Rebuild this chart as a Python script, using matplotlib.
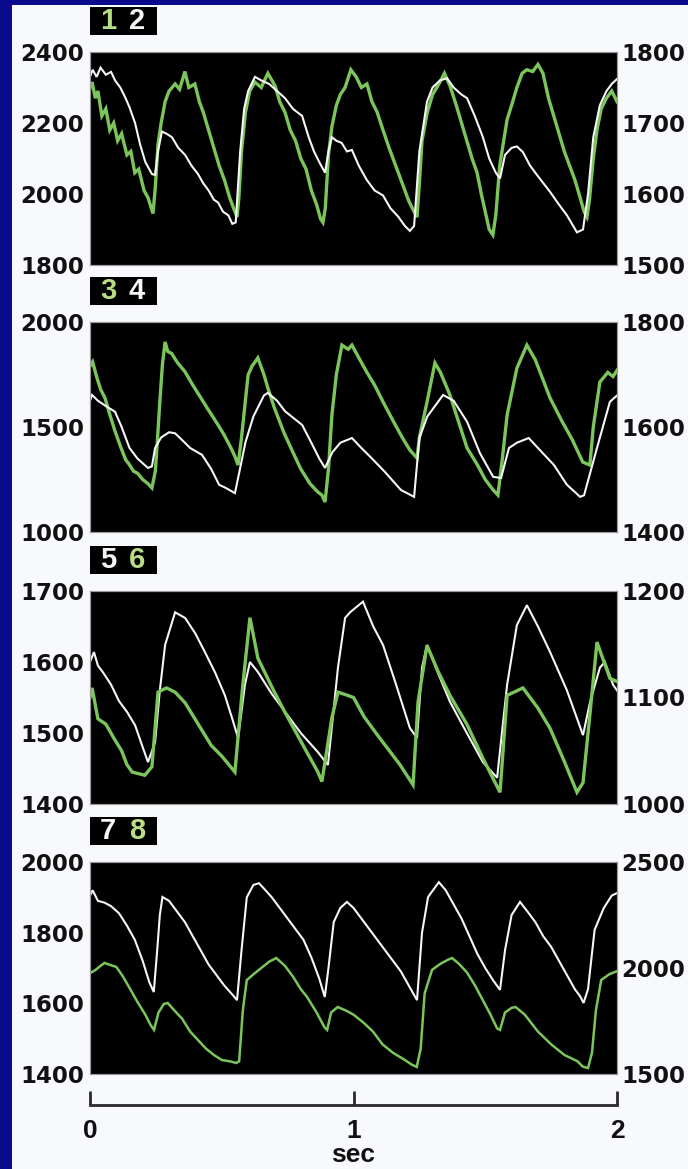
"""Four paired pressure traces over two seconds, with a scale bar in seconds."""

import matplotlib.pyplot as plt
from matplotlib.patches import Rectangle

# ---- panel 1: trace 1 (green, left axis) and trace 2 (white, right axis)
p1_green_t = [0.000, 0.008, 0.020, 0.030, 0.045, 0.060, 0.075, 0.090, 0.105, 0.120,
              0.140, 0.155, 0.170, 0.185, 0.205, 0.220, 0.239, 0.248, 0.258, 0.270,
              0.285, 0.300, 0.323, 0.340, 0.360, 0.375, 0.398, 0.415, 0.430, 0.450,
              0.470, 0.490, 0.510, 0.530, 0.545, 0.558, 0.565, 0.575, 0.590, 0.606,
              0.626, 0.650, 0.675, 0.702, 0.720, 0.740, 0.760, 0.780, 0.800, 0.820,
              0.840, 0.860, 0.875, 0.884, 0.893, 0.905, 0.918, 0.935, 0.950, 0.968,
              0.990, 1.010, 1.030, 1.051, 1.070, 1.090, 1.112, 1.135, 1.160, 1.185,
              1.210, 1.230, 1.241, 1.250, 1.260, 1.280, 1.300, 1.328, 1.345, 1.366,
              1.390, 1.410, 1.430, 1.450, 1.469, 1.485, 1.500, 1.515, 1.529, 1.540,
              1.555, 1.570, 1.583, 1.600, 1.620, 1.640, 1.658, 1.680, 1.700, 1.719,
              1.740, 1.760, 1.780, 1.800, 1.820, 1.840, 1.860, 1.875, 1.886, 1.895,
              1.910, 1.924, 1.940, 1.960, 1.980, 2.000]
p1_green = [2300, 2315, 2270, 2290, 2220, 2240, 2180, 2200, 2150, 2170,
            2110, 2120, 2060, 2070, 2010, 1990, 1945, 2020, 2140, 2200,
            2260, 2290, 2310, 2295, 2345, 2300, 2310, 2260, 2230, 2180,
            2130, 2080, 2040, 1990, 1960, 1935, 1990, 2120, 2230, 2290,
            2315, 2300, 2340, 2305, 2260, 2230, 2180, 2150, 2100, 2070,
            2010, 1970, 1930, 1920, 1960, 2110, 2190, 2250, 2280, 2300,
            2350, 2330, 2300, 2310, 2260, 2230, 2180, 2130, 2080, 2030,
            1980, 1950, 1935, 2030, 2150, 2230, 2280, 2315, 2340, 2305,
            2250, 2200, 2150, 2100, 2060, 2000, 1950, 1900, 1885, 1940,
            2080, 2150, 2210, 2250, 2300, 2340, 2350, 2345, 2365, 2340,
            2270, 2220, 2170, 2120, 2080, 2040, 1990, 1950, 1935, 1980,
            2100, 2180, 2240, 2270, 2290, 2260]
p1_white_t = [0.000, 0.010, 0.025, 0.040, 0.060, 0.080, 0.095, 0.115, 0.135, 0.150,
              0.171, 0.190, 0.210, 0.235, 0.247, 0.258, 0.273, 0.290, 0.311, 0.335,
              0.361, 0.385, 0.410, 0.430, 0.450, 0.470, 0.486, 0.505, 0.525, 0.540,
              0.553, 0.570, 0.585, 0.600, 0.626, 0.650, 0.680, 0.710, 0.740, 0.770,
              0.805, 0.830, 0.850, 0.870, 0.892, 0.905, 0.918, 0.935, 0.955, 0.975,
              0.994, 1.020, 1.050, 1.080, 1.112, 1.140, 1.170, 1.195, 1.214, 1.230,
              1.250, 1.279, 1.300, 1.328, 1.355, 1.380, 1.410, 1.431, 1.460, 1.491,
              1.515, 1.540, 1.556, 1.575, 1.600, 1.620, 1.643, 1.670, 1.700, 1.746,
              1.780, 1.810, 1.848, 1.871, 1.890, 1.910, 1.935, 1.960, 1.980, 2.000]
p1_white = [1765, 1775, 1765, 1778, 1768, 1772, 1760, 1750, 1735, 1722,
            1700, 1670, 1645, 1628, 1627, 1660, 1688, 1685, 1680, 1665,
            1655, 1640, 1628, 1615, 1605, 1592, 1588, 1575, 1570, 1558,
            1560, 1660, 1720, 1745, 1765, 1760, 1755, 1745, 1735, 1720,
            1710, 1680, 1660, 1645, 1630, 1660, 1680, 1675, 1672, 1660,
            1662, 1640, 1620, 1605, 1598, 1580, 1568, 1555, 1548, 1555,
            1660, 1730, 1750, 1760, 1763, 1750, 1740, 1735, 1710, 1680,
            1650, 1630, 1622, 1655, 1665, 1667, 1659, 1640, 1625, 1603,
            1585, 1570, 1546, 1550, 1600, 1680, 1725, 1745, 1755, 1762]

# ---- panel 2: trace 3 (green, left axis) and trace 4 (white, right axis)
p2_green_t = [0.000, 0.010, 0.025, 0.040, 0.057, 0.075, 0.095, 0.115, 0.135, 0.150,
              0.165, 0.180, 0.200, 0.220, 0.235, 0.248, 0.255, 0.265, 0.275, 0.285,
              0.295, 0.310, 0.330, 0.361, 0.390, 0.420, 0.450, 0.486, 0.510, 0.535,
              0.550, 0.562, 0.575, 0.600, 0.615, 0.637, 0.660, 0.675, 0.700, 0.737,
              0.770, 0.800, 0.835, 0.865, 0.880, 0.892, 0.905, 0.918, 0.935, 0.956,
              0.980, 0.994, 1.020, 1.051, 1.080, 1.112, 1.150, 1.185, 1.214, 1.241,
              1.250, 1.279, 1.309, 1.330, 1.366, 1.400, 1.431, 1.470, 1.500, 1.530,
              1.548, 1.565, 1.583, 1.620, 1.658, 1.690, 1.746, 1.790, 1.830, 1.870,
              1.897, 1.910, 1.935, 1.965, 1.985, 2.000]
p2_green = [1790, 1810, 1740, 1680, 1638, 1560, 1480, 1410, 1345, 1320,
            1290, 1280, 1250, 1230, 1210, 1290, 1420, 1620, 1800, 1905,
            1860, 1850, 1810, 1762, 1700, 1640, 1580, 1510, 1460, 1400,
            1360, 1319, 1450, 1748, 1790, 1829, 1750, 1686, 1590, 1470,
            1380, 1300, 1230, 1190, 1176, 1143, 1300, 1557, 1750, 1890,
            1870, 1890, 1830, 1760, 1700, 1620, 1530, 1450, 1390, 1352,
            1450, 1619, 1805, 1760, 1652, 1520, 1400, 1320, 1250, 1200,
            1176, 1350, 1557, 1780, 1890, 1820, 1638, 1530, 1440, 1333,
            1319, 1500, 1714, 1760, 1740, 1770]
p2_white_t = [0.000, 0.008, 0.030, 0.060, 0.095, 0.120, 0.150, 0.180, 0.220, 0.235,
              0.247, 0.270, 0.300, 0.323, 0.350, 0.380, 0.425, 0.460, 0.490, 0.515,
              0.550, 0.565, 0.590, 0.620, 0.660, 0.675, 0.710, 0.740, 0.805, 0.840,
              0.870, 0.892, 0.920, 0.950, 0.994, 1.030, 1.070, 1.120, 1.180, 1.230,
              1.250, 1.280, 1.340, 1.380, 1.431, 1.480, 1.530, 1.560, 1.590, 1.620,
              1.665, 1.700, 1.760, 1.810, 1.860, 1.875, 1.924, 1.973, 2.000]
p2_white = [1650, 1661, 1650, 1640, 1629, 1600, 1560, 1540, 1522, 1525,
            1560, 1580, 1590, 1588, 1575, 1560, 1547, 1520, 1490, 1484,
            1474, 1510, 1571, 1620, 1660, 1665, 1650, 1630, 1604, 1570,
            1540, 1522, 1552, 1570, 1579, 1560, 1540, 1514, 1480, 1467,
            1579, 1620, 1661, 1650, 1610, 1550, 1505, 1503, 1560, 1570,
            1579, 1560, 1528, 1490, 1467, 1470, 1560, 1648, 1660]

# ---- panel 3: trace 5 (white, left axis) and trace 6 (green, right axis)
p3_white_t = [0.000, 0.015, 0.030, 0.050, 0.080, 0.110, 0.140, 0.171, 0.200, 0.220,
              0.247, 0.265, 0.285, 0.323, 0.361, 0.400, 0.436, 0.475, 0.512, 0.540,
              0.562, 0.588, 0.607, 0.637, 0.690, 0.740, 0.800, 0.865, 0.903, 0.941,
              0.968, 0.987, 1.036, 1.075, 1.112, 1.160, 1.214, 1.241, 1.260, 1.279,
              1.320, 1.366, 1.430, 1.491, 1.545, 1.583, 1.620, 1.658, 1.700, 1.746,
              1.810, 1.871, 1.898, 1.935, 1.954, 1.985, 2.000]
p3_white = [1600, 1614, 1595, 1585, 1568, 1545, 1530, 1511, 1480, 1459,
            1487, 1560, 1624, 1670, 1662, 1640, 1614, 1585, 1553, 1520,
            1493, 1568, 1600, 1586, 1555, 1530, 1500, 1473, 1455, 1592,
            1662, 1670, 1685, 1650, 1624, 1570, 1507, 1493, 1592, 1624,
            1585, 1544, 1500, 1459, 1437, 1568, 1652, 1680, 1650, 1614,
            1560, 1497, 1544, 1592, 1600, 1568, 1560]
p3_green_t = [0.000, 0.008, 0.030, 0.060, 0.095, 0.120, 0.140, 0.160, 0.208, 0.235,
              0.258, 0.290, 0.323, 0.361, 0.413, 0.460, 0.500, 0.550, 0.568, 0.580,
              0.607, 0.637, 0.690, 0.740, 0.820, 0.865, 0.880, 0.918, 0.941, 0.978,
              1.000, 1.040, 1.090, 1.176, 1.226, 1.245, 1.279, 1.320, 1.366, 1.430,
              1.491, 1.556, 1.583, 1.643, 1.700, 1.746, 1.800, 1.848, 1.871, 1.898,
              1.924, 1.973, 2.000]
p3_green = [1100, 1109, 1080, 1075, 1060, 1050, 1037, 1030, 1027, 1035,
            1105, 1109, 1105, 1095, 1074, 1055, 1045, 1030, 1080, 1112,
            1175, 1137, 1110, 1086, 1050, 1030, 1021, 1081, 1105, 1102,
            1100, 1082, 1065, 1037, 1018, 1096, 1149, 1125, 1102, 1075,
            1043, 1011, 1102, 1109, 1090, 1071, 1040, 1011, 1020, 1086,
            1152, 1118, 1115]

# ---- panel 4: trace 7 (white, left axis) and trace 8 (green, right axis)
p4_white_t = [0.000, 0.010, 0.030, 0.055, 0.080, 0.110, 0.140, 0.170, 0.200, 0.225,
              0.242, 0.255, 0.265, 0.275, 0.300, 0.330, 0.360, 0.390, 0.420, 0.450,
              0.480, 0.510, 0.540, 0.558, 0.575, 0.595, 0.620, 0.641, 0.660, 0.690,
              0.720, 0.750, 0.780, 0.810, 0.840, 0.870, 0.891, 0.905, 0.925, 0.950,
              0.975, 1.000, 1.030, 1.060, 1.090, 1.120, 1.150, 1.180, 1.210, 1.241,
              1.260, 1.283, 1.324, 1.350, 1.380, 1.410, 1.440, 1.470, 1.500, 1.530,
              1.556, 1.575, 1.600, 1.632, 1.660, 1.690, 1.720, 1.750, 1.780, 1.810,
              1.840, 1.860, 1.873, 1.890, 1.915, 1.950, 1.980, 2.000]
p4_white = [1905, 1920, 1890, 1885, 1875, 1855, 1820, 1780, 1720, 1660,
            1632, 1750, 1850, 1901, 1890, 1860, 1830, 1790, 1750, 1710,
            1680, 1650, 1625, 1609, 1750, 1900, 1935, 1940, 1925, 1900,
            1870, 1840, 1810, 1780, 1730, 1670, 1618, 1700, 1830, 1870,
            1887, 1870, 1840, 1810, 1780, 1750, 1720, 1690, 1650, 1609,
            1800, 1901, 1943, 1920, 1880, 1840, 1790, 1740, 1700, 1665,
            1638, 1750, 1850, 1887, 1860, 1830, 1790, 1760, 1720, 1680,
            1640, 1620, 1601, 1640, 1808, 1870, 1905, 1912]
p4_green_t = [0.000, 0.020, 0.040, 0.055, 0.075, 0.100, 0.125, 0.150, 0.180, 0.210,
              0.230, 0.243, 0.260, 0.280, 0.295, 0.320, 0.350, 0.380, 0.410, 0.440,
              0.470, 0.500, 0.530, 0.555, 0.566, 0.580, 0.595, 0.620, 0.650, 0.680,
              0.707, 0.740, 0.770, 0.800, 0.824, 0.860, 0.890, 0.900, 0.915, 0.940,
              0.970, 1.000, 1.040, 1.074, 1.110, 1.150, 1.190, 1.220, 1.240, 1.255,
              1.270, 1.298, 1.330, 1.360, 1.374, 1.400, 1.430, 1.460, 1.490, 1.520,
              1.545, 1.556, 1.575, 1.600, 1.615, 1.650, 1.700, 1.750, 1.800, 1.850,
              1.870, 1.890, 1.905, 1.920, 1.940, 1.970, 2.000]
p4_green = [1976, 1990, 2010, 2024, 2015, 2005, 1960, 1906, 1840, 1780,
            1731, 1708, 1790, 1830, 1835, 1800, 1760, 1700, 1660, 1620,
            1590, 1566, 1560, 1552, 1560, 1800, 1943, 1970, 2000, 2030,
            2047, 2010, 1960, 1900, 1863, 1790, 1720, 1708, 1790, 1816,
            1800, 1780, 1740, 1700, 1640, 1600, 1570, 1545, 1533, 1620,
            1880, 1991, 2020, 2040, 2047, 2020, 1980, 1920, 1850, 1780,
            1715, 1708, 1790, 1812, 1816, 1780, 1700, 1640, 1590, 1560,
            1535, 1528, 1600, 1800, 1943, 1970, 1985]

# axis ranges, tick labels and the two-digit trace tags of each panel
left_lims = [(1800, 2400), (1000, 2000), (1400, 1700), (1400, 2000)]
right_lims = [(1500, 1800), (1400, 1800), (1000, 1200), (1500, 2500)]
left_ticks = [[1800, 2000, 2200, 2400], [1000, 1500, 2000],
              [1400, 1500, 1600, 1700], [1400, 1600, 1800, 2000]]
right_ticks = [[1500, 1600, 1700, 1800], [1400, 1600, 1800],
               [1000, 1100, 1200], [1500, 2000, 2500]]
tags = [("1", "2"), ("3", "4"), ("5", "6"), ("7", "8")]
sec_ticks = [0, 1, 2]

NAVY = "#0a0a8c"
PAGE = "#f8f9fc"
GREEN = "#7cc55a"
TAG_GREEN = "#b8de84"
WHITE = "#f6f6f6"

W_PX, H_PX = 688, 1169
PANEL_X = (90, 617)
PANEL_Y = [(52, 265), (322, 532), (591, 804), (862, 1074)]
GREEN_LW = [2.4, 2.4, 2.4, 1.8]


def fx(px):
    return px / W_PX


def fy(py):
    return 1 - py / H_PX


def main() -> None:
    fig = plt.figure(figsize=(W_PX / 100, H_PX / 100), dpi=100, facecolor=NAVY)
    fig.patches.append(Rectangle((fx(12), 0), 1, fy(5), transform=fig.transFigure,
                                 facecolor=PAGE, edgecolor="none", zorder=-10))

    panels = [
        # (left series, left color, right series, right color, tag colors)
        ((p1_green_t, p1_green), GREEN, (p1_white_t, p1_white), WHITE, (TAG_GREEN, WHITE)),
        ((p2_green_t, p2_green), GREEN, (p2_white_t, p2_white), WHITE, (TAG_GREEN, WHITE)),
        ((p3_white_t, p3_white), WHITE, (p3_green_t, p3_green), GREEN, (WHITE, TAG_GREEN)),
        ((p4_white_t, p4_white), WHITE, (p4_green_t, p4_green), GREEN, (WHITE, TAG_GREEN)),
    ]
    label_kw = dict(fontsize=16.5, fontweight="bold", family="DejaVu Sans", color="#111111")

    for i, (lser, lcol, rser, rcol, tcols) in enumerate(panels):
        top, bot = PANEL_Y[i]
        ax = fig.add_axes([fx(PANEL_X[0]), fy(bot), fx(PANEL_X[1]) - fx(PANEL_X[0]),
                           fy(top) - fy(bot)])
        ax.set_facecolor("black")
        ax.set_xlim(0, 2)
        ax.set_ylim(*left_lims[i])
        ax.set_xticks([])
        ax.set_yticks(left_ticks[i], labels=[str(v) for v in left_ticks[i]], **label_kw)
        ax.tick_params(axis="y", length=0, pad=4)
        lw_l = GREEN_LW[i] if lcol == GREEN else 1.5
        ax.plot(*lser, color=lcol, lw=lw_l, solid_joinstyle="miter")

        axr = ax.twinx()
        axr.set_ylim(*right_lims[i])
        axr.set_yticks(right_ticks[i], labels=[str(v) for v in right_ticks[i]], **label_kw)
        axr.tick_params(axis="y", length=0, pad=3)
        lw_r = GREEN_LW[i] if rcol == GREEN else 1.5
        axr.plot(*rser, color=rcol, lw=lw_r, solid_joinstyle="miter")

        for a in (ax, axr):
            for sp in a.spines.values():
                sp.set_color("#9a9a9a")
                sp.set_linewidth(0.8)

        # black tag box with the two trace numbers
        fig.patches.append(Rectangle((fx(90), fy(top - 17)), fx(157) - fx(90),
                                     fy(top - 45) - fy(top - 17), transform=fig.transFigure,
                                     facecolor="black", edgecolor="none", zorder=2))
        ty = fy(top - 31)
        fig.text(fx(108), ty, tags[i][0], color=tcols[0], fontsize=21, fontweight="bold",
                 family="Liberation Sans", ha="center", va="center", zorder=3)
        fig.text(fx(137), ty, tags[i][1], color=tcols[1], fontsize=21, fontweight="bold",
                 family="Liberation Sans", ha="center", va="center", zorder=3)

    # time scale bar
    axs = fig.add_axes([fx(PANEL_X[0]), fy(1105), fx(PANEL_X[1]) - fx(PANEL_X[0]), 0.01])
    axs.patch.set_visible(False)
    axs.set_xlim(0, 2)
    axs.set_yticks([])
    for side in ("top", "left", "right"):
        axs.spines[side].set_visible(False)
    axs.spines["bottom"].set_color("#2a2a2a")
    axs.spines["bottom"].set_linewidth(2)
    axs.set_xticks(sec_ticks, labels=[str(v) for v in sec_ticks], fontsize=19,
                   fontweight="bold", family="Liberation Sans", color="#111111")
    axs.tick_params(axis="x", direction="in", length=10, width=2, color="#2a2a2a", pad=10)
    axs.set_xlabel("sec", fontsize=19, fontweight="bold", family="Liberation Sans",
                   color="#111111", labelpad=0)

    fig.savefig("out.png", dpi=100, facecolor=fig.get_facecolor())


if __name__ == "__main__":
    main()
